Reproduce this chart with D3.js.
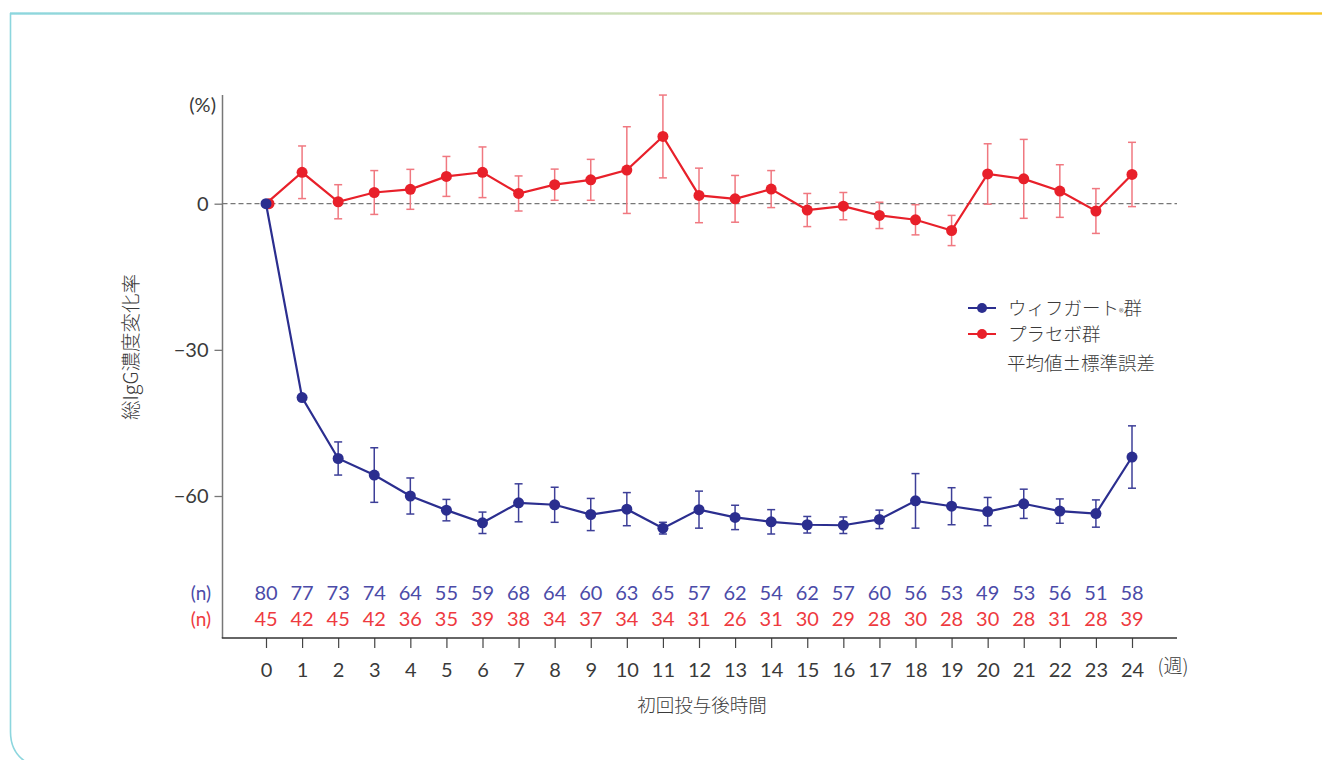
<!DOCTYPE html>
<html>
<head>
<meta charset="utf-8">
<script src="https://cdn.jsdelivr.net/npm/d3@7"></script>
<style>
	body { margin: 0; background: #fff; }
	svg text { font-family: "Noto Sans CJK JP", "Noto Sans", sans-serif; font-weight: 300; }
	svg text.num { font-family: Lato, "Noto Sans", sans-serif; font-weight: 400; }
</style>
</head>
<body>
<div id="chart"></div>
<script>
// weeks after first dose
var weeks = d3.range(0, 25);

// % change in total IgG, mean and SE
var efgMean = [0, -39.8, -52.3, -55.7, -60.0, -62.9, -65.5, -61.4, -61.8, -63.8, -62.7, -66.6, -62.8,
	-64.4, -65.3, -65.9, -66.0, -64.8, -61.0, -62.1, -63.2, -61.6, -63.1, -63.6, -52.0];
var efgSE   = [0, 0, 3.4, 5.6, 3.7, 2.2, 2.2, 3.9, 3.6, 3.3, 3.4, 1.2, 3.8,
	2.5, 2.5, 1.7, 1.7, 1.9, 5.6, 3.8, 2.9, 3.0, 2.5, 2.8, 6.4];
var pboMean = [0, 6.45, 0.4, 2.3, 2.95, 5.6, 6.45, 2.1, 3.9, 4.9, 6.9, 13.8, 1.7,
	1.0, 3.0, -1.3, -0.5, -2.4, -3.3, -5.5, 6.1, 5.1, 2.6, -1.5, 6.0];
var pboSE   = [0, 5.4, 3.5, 4.5, 4.1, 4.1, 5.2, 3.6, 3.2, 4.2, 8.9, 8.5, 5.6,
	4.8, 3.8, 3.4, 2.8, 2.7, 3.1, 3.1, 6.2, 8.1, 5.4, 4.6, 6.6];

// number of patients
var efgN = [80, 77, 73, 74, 64, 55, 59, 68, 64, 60, 63, 65, 57, 62, 54, 62, 57, 60, 56, 53, 49, 53, 56, 51, 58];
var pboN = [45, 42, 45, 42, 36, 35, 39, 38, 34, 37, 34, 34, 31, 26, 31, 30, 29, 28, 30, 28, 30, 28, 31, 28, 39];

var yTicks = [0, -30, -60];

var W = 1322, H = 760;
var blue = '#2b2e8f', red = '#e8202a';
var txt = '#3a3a3a';
var numSize = '20px', cjkSize = '18.5px';

var svg = d3.select('#chart').append('svg')
	.attr('width', W)
	.attr('height', H);

// frame with gradient top edge
var defs = svg.append('defs');
var grad = defs.append('linearGradient').attr('id', 'topgrad')
	.attr('gradientUnits', 'userSpaceOnUse')
	.attr('x1', 10).attr('x2', W).attr('y1', 0).attr('y2', 0);
grad.append('stop').attr('offset', '0%').attr('stop-color', '#8cd6de');
grad.append('stop').attr('offset', '45%').attr('stop-color', '#c9dfb8');
grad.append('stop').attr('offset', '75%').attr('stop-color', '#eed88a');
grad.append('stop').attr('offset', '100%').attr('stop-color', '#f6c62a');

svg.append('rect')
	.attr('x', 10).attr('y', 12.3).attr('width', W - 10).attr('height', 2.4)
	.attr('fill', 'url(#topgrad)');
svg.append('path')
	.attr('d', 'M10.5,13 L10.5,732 Q10.5,752 26,762')
	.attr('fill', 'none').attr('stroke', '#8cd6de').attr('stroke-width', 1.6);

// scales
var x = d3.scaleLinear().domain([0, 24]).range([266, 1132]);
var y = d3.scaleLinear().domain([-60, 0]).range([496, 203.7]);

var axisLeft = 222.5, axisRight = 1177, axisTop = 95, axisBottom = 638;

var vis = svg.append('g');

// y axis
var yAxis = d3.axisLeft(y).tickValues(yTicks).tickSize(8).tickPadding(6)
	.tickFormat(function(d) { return d < 0 ? '\u2212' + Math.abs(d) : d; });
var ya = vis.append('g')
	.attr('transform', 'translate(' + axisLeft + ',0)')
	.call(yAxis);
ya.select('.domain').remove();
ya.selectAll('.tick line').attr('stroke', '#777').attr('stroke-width', 1.3);
ya.selectAll('.tick text').attr('class', 'num').style('font-size', numSize).style('fill', txt);
vis.append('line')
	.attr('x1', axisLeft).attr('x2', axisLeft)
	.attr('y1', axisTop).attr('y2', axisBottom)
	.attr('stroke', '#777').attr('stroke-width', 1.5);

vis.append('text')
	.attr('class', 'num')
	.attr('x', 216).attr('y', 112)
	.attr('text-anchor', 'end')
	.style('font-size', '20px').style('fill', txt)
	.text('(%)');

vis.append('text')
	.attr('transform', 'translate(138,' + 347 + ') rotate(-90)')
	.attr('text-anchor', 'middle')
	.style('font-size', '19.5px').style('fill', txt)
	.text('総IgG濃度変化率');

// x axis
var xAxis = d3.axisBottom(x).tickValues(weeks).tickSize(10).tickPadding(15);
var xa = vis.append('g')
	.attr('transform', 'translate(0,' + axisBottom + ')')
	.call(xAxis);
xa.select('.domain').remove();
xa.selectAll('.tick line').attr('stroke', '#444').attr('stroke-width', 1.2);
xa.selectAll('.tick text').attr('class', 'num').style('font-size', numSize).style('fill', txt);
vis.append('line')
	.attr('x1', axisLeft - 0.7).attr('x2', axisRight)
	.attr('y1', axisBottom).attr('y2', axisBottom)
	.attr('stroke', '#333').attr('stroke-width', 1.3);

vis.append('text')
	.attr('x', 1173).attr('y', 673)
	.attr('text-anchor', 'middle')
	.style('font-size', '19px').style('fill', txt)
	.text('(週)');

vis.append('text')
	.attr('x', x(12) + 3).attr('y', 712)
	.attr('text-anchor', 'middle')
	.style('font-size', cjkSize).style('fill', txt)
	.text('初回投与後時間');

// zero reference
vis.append('line')
	.attr('x1', axisLeft).attr('x2', axisRight)
	.attr('y1', y(0)).attr('y2', y(0))
	.attr('stroke', '#777').attr('stroke-width', 1.3)
	.attr('stroke-dasharray', '5,3');

// n rows
var nRows = [
	{ vals: efgN, color: '#4b4ba8', yPos: 600 },
	{ vals: pboN, color: '#ee3a40', yPos: 626 }
];
nRows.forEach(function(r) {
	vis.append('text')
		.attr('class', 'num')
		.attr('x', 211).attr('y', r.yPos)
		.attr('text-anchor', 'end')
		.style('font-size', '19px')
		.style('fill', r.color)
		.text('(n)');
	vis.append('g').selectAll('text')
		.data(r.vals)
		.enter().append('text')
		.attr('class', 'num')
		.attr('x', function(d, i) { return x(weeks[i]); })
		.attr('y', r.yPos)
		.attr('text-anchor', 'middle')
		.style('font-size', numSize)
		.style('fill', r.color)
		.text(function(d) { return d; });
});

// series
var series = [
	{ mean: pboMean, se: pboSE, color: red, errColor: '#f07880' },
	{ mean: efgMean, se: efgSE, color: blue, errColor: '#3d3f98' }
];

var line = d3.line()
	.x(function(d, i) { return x(weeks[i]); })
	.y(function(d) { return y(d); });

series.forEach(function(s) {
	var g = vis.append('g');
	// error bars
	s.mean.forEach(function(m, i) {
		if (!s.se[i]) return;
		var cx = x(weeks[i]), y1 = y(m + s.se[i]), y2 = y(m - s.se[i]);
		var eg = g.append('g').attr('stroke', s.errColor).attr('stroke-width', 1.5);
		eg.append('line').attr('x1', cx).attr('x2', cx).attr('y1', y1).attr('y2', y2);
		eg.append('line').attr('x1', cx - 4).attr('x2', cx + 4).attr('y1', y1).attr('y2', y1);
		eg.append('line').attr('x1', cx - 4).attr('x2', cx + 4).attr('y1', y2).attr('y2', y2);
	});
	g.append('path')
		.attr('d', line(s.mean))
		.attr('fill', 'none')
		.attr('stroke', s.color)
		.attr('stroke-width', 2.2);
	g.selectAll('circle')
		.data(s.mean)
		.enter().append('circle')
		.attr('cx', function(d, i) { return x(weeks[i]) + (s.color === red && i === 0 ? 3 : 0); })
		.attr('cy', function(d) { return y(d); })
		.attr('r', 5.5)
		.attr('fill', s.color);
});

// legend
var legend = vis.append('g').attr('transform', 'translate(968,308)');
var legItems = [
	{ color: blue, label: 'ウィフガート', sup: '®', tail: '群' },
	{ color: red, label: 'プラセボ群' }
];
legItems.forEach(function(d, i) {
	var row = legend.append('g').attr('transform', 'translate(0,' + (i * 26) + ')');
	row.append('line').attr('x1', 0).attr('x2', 28).attr('stroke', d.color).attr('stroke-width', 2);
	row.append('circle').attr('cx', 14).attr('r', 5).attr('fill', d.color);
	var t = row.append('text').attr('x', 40).attr('y', 7).style('font-size', cjkSize).style('fill', txt);
	t.append('tspan').text(d.label);
	if (d.sup) {
		t.append('tspan').style('font-size', '10px').attr('dy', 1).text(d.sup);
		t.append('tspan').attr('dy', -1).text(d.tail);
	}
});
legend.append('text')
	.attr('x', 39).attr('y', 62)
	.style('font-size', cjkSize).style('fill', txt)
	.text('平均値±標準誤差');
</script>
</body>
</html>
